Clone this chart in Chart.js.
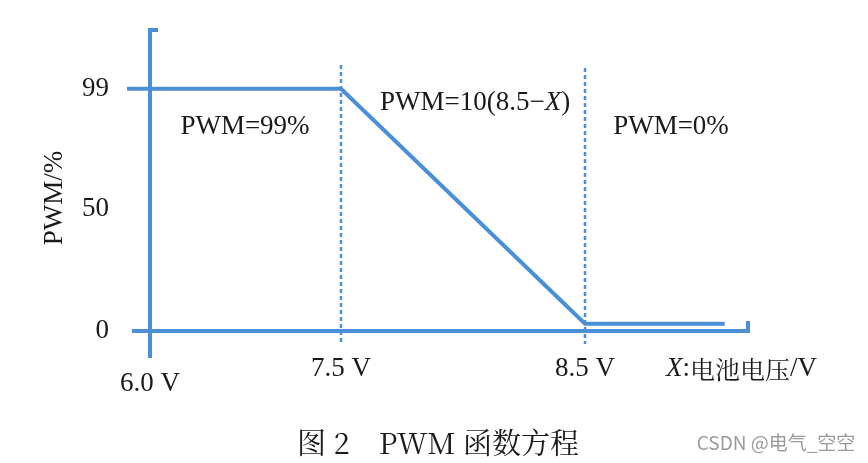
<!DOCTYPE html>
<html>
<head>
<meta charset="utf-8">
<script src="https://cdn.jsdelivr.net/npm/chart.js@4/dist/chart.umd.min.js"></script>
<style>
  html, body { margin: 0; padding: 0; background: #fff; }
  #wrap { position: relative; width: 868px; height: 463px; }
</style>
</head>
<body>
<div id="wrap"><canvas id="js-chart" width="868" height="463"></canvas></div>
<script>
// battery voltage (V) and PWM duty (%)
const voltages = [6.0, 7.5, 8.5, 9.1];
const pwmValues = [99, 99, 3, 3];
const xTicks = [6.0, 7.5, 8.5];
const xTickLabels = ['6.0 V', '7.5 V', '8.5 V'];
const yTicks = [0, 50, 99];
const markers = [7.5, 8.5];
const regionLabels = ['PWM=99%', 'PWM=10(8.5\u2212X)', 'PWM=0%'];

const blue = '#4a8fd8';
const serif = '"Liberation Serif", "Times New Roman", serif';
const cjk = '"Noto Serif CJK SC", "Noto Sans CJK SC", ' + serif;

// the figure is a sketch, so the voltage axis is stretched piece by piece
class PiecewiseScale extends Chart.LinearScale {
    getPixelForValue(value) {
        const stops = this.options.stops;
        const frac = this.options.fractions;
        let i = 0;
        while (i < stops.length - 2 && value > stops[i + 1]) i++;
        const t = (value - stops[i]) / (stops[i + 1] - stops[i]);
        const f = frac[i] + t * (frac[i + 1] - frac[i]);
        return this.left + f * this.width;
    }
    getValueForPixel(pixel) {
        const stops = this.options.stops;
        const frac = this.options.fractions;
        const f = (pixel - this.left) / this.width;
        let i = 0;
        while (i < frac.length - 2 && f > frac[i + 1]) i++;
        const t = (f - frac[i]) / (frac[i + 1] - frac[i]);
        return stops[i] + t * (stops[i + 1] - stops[i]);
    }
}
PiecewiseScale.id = 'piecewise';
PiecewiseScale.defaults = Chart.LinearScale.defaults;
Chart.register(PiecewiseScale);

const sketchAxes = {
    id: 'sketchAxes',
    beforeDatasetsDraw(chart) {
        const { ctx, scales: { x, y } } = chart;
        const x0 = x.getPixelForValue(voltages[0]);
        const yZero = y.getPixelForValue(0);
        const yTop = y.getPixelForValue(99);

        ctx.save();
        // dashed markers
        ctx.strokeStyle = blue;
        ctx.lineWidth = 2.5;
        ctx.setLineDash([4, 3]);
        markers.forEach((m, i) => {
            const px = x.getPixelForValue(m);
            ctx.beginPath();
            ctx.moveTo(px, i === 0 ? 65 : 68);
            ctx.lineTo(px, yZero + 13);
            ctx.stroke();
        });
        ctx.setLineDash([]);

        // axes
        ctx.lineWidth = 4;
        ctx.beginPath();
        ctx.moveTo(x0, chart.chartArea.bottom);
        ctx.lineTo(x0, chart.chartArea.top);
        ctx.lineTo(x0 + 8, chart.chartArea.top);
        ctx.stroke();

        ctx.beginPath();
        ctx.moveTo(x0 - 18, yZero);
        ctx.lineTo(x.right, yZero);
        ctx.lineTo(x.right, yZero - 10);
        ctx.stroke();

        // tick at 99
        ctx.beginPath();
        ctx.moveTo(x0 - 23, yTop);
        ctx.lineTo(x0, yTop);
        ctx.stroke();

        ctx.restore();
    },
    afterDraw(chart) {
        const { ctx, scales: { x, y } } = chart;
        const yZero = y.getPixelForValue(0);
        const f = '27px ' + serif;
        const fi = 'italic 27px ' + serif;
        ctx.save();
        ctx.fillStyle = '#1a1a1a';
        ctx.textBaseline = 'middle';
        ctx.textAlign = 'center';
        ctx.font = f;

        xTicks.forEach((v, i) => {
            const dy = i === 0 ? 53 : 38;
            ctx.fillText(xTickLabels[i], x.getPixelForValue(v), yZero + dy);
        });

        // x title, X in italics
        ctx.textAlign = 'left';
        const ty = yZero + 38;
        let tx = 666;
        ctx.font = fi;
        ctx.fillText('X', tx, ty);
        tx += ctx.measureText('X').width;
        ctx.font = f;
        ctx.fillText(':', tx, ty);
        tx += ctx.measureText(':').width;
        ctx.font = '25px ' + cjk;
        ctx.fillText('电池电压', tx, ty);
        tx += ctx.measureText('电池电压').width;
        ctx.font = f;
        ctx.fillText('/V', tx, ty);

        // region notes
        ctx.textAlign = 'center';
        ctx.fillText(regionLabels[0], 245, 127);
        ctx.fillText(regionLabels[2], 671, 127);
        const note = 'PWM=10(8.5\u2212';
        ctx.textAlign = 'left';
        let nx = 380;
        ctx.fillText(note, nx, 103);
        nx += ctx.measureText(note).width;
        ctx.font = fi;
        ctx.fillText('X', nx, 103);
        nx += ctx.measureText('X').width;
        ctx.font = f;
        ctx.fillText(')', nx, 103);

        // y title
        ctx.save();
        ctx.translate(55, 198);
        ctx.rotate(-Math.PI / 2);
        ctx.textAlign = 'center';
        ctx.fillText('PWM/%', 0, 0);
        ctx.restore();

        // caption
        ctx.textAlign = 'center';
        ctx.font = '29px ' + cjk;
        ctx.fillText('图 2\u3000PWM 函数方程', 438, 443);

        ctx.font = '19px "Noto Sans CJK SC", "Noto Sans", sans-serif';
        ctx.fillStyle = '#9a9a9a';
        ctx.fillText('CSDN @电气_空空', 776, 443);
        ctx.restore();
    }
};

new Chart(document.getElementById('js-chart'), {
    type: 'line',
    data: {
        datasets: [{
            data: voltages.map((v, i) => ({ x: v, y: pwmValues[i] })),
            borderColor: blue,
            borderWidth: 4,
            pointRadius: 0,
            tension: 0,
            fill: false
        }]
    },
    options: {
        responsive: false,
        animation: false,
        events: [],
        layout: { padding: { top: 30, right: 120, bottom: 97, left: 0 } },
        plugins: { legend: { display: false }, tooltip: { enabled: false } },
        scales: {
            x: {
                type: 'piecewise',
                min: 6.0,
                max: 9.2,
                stops: [6.0, 7.5, 8.5, 9.2],
                fractions: [0, 191 / 598, 435 / 598, 1],
                grid: { display: false },
                border: { display: false },
                ticks: { display: false }
            },
            y: {
                min: -11,
                max: 123,
                afterFit: (scale) => {
                    scale.width = 150;
                    scale.paddingTop = 0;
                    scale.paddingBottom = 0;
                },
                afterBuildTicks: (scale) => { scale.ticks = yTicks.map(v => ({ value: v })); },
                grid: { display: false },
                border: { display: false },
                ticks: {
                    padding: 33,
                    color: '#1a1a1a',
                    font: { family: serif, size: 27 }
                }
            }
        }
    },
    plugins: [sketchAxes]
});
</script>
</body>
</html>
